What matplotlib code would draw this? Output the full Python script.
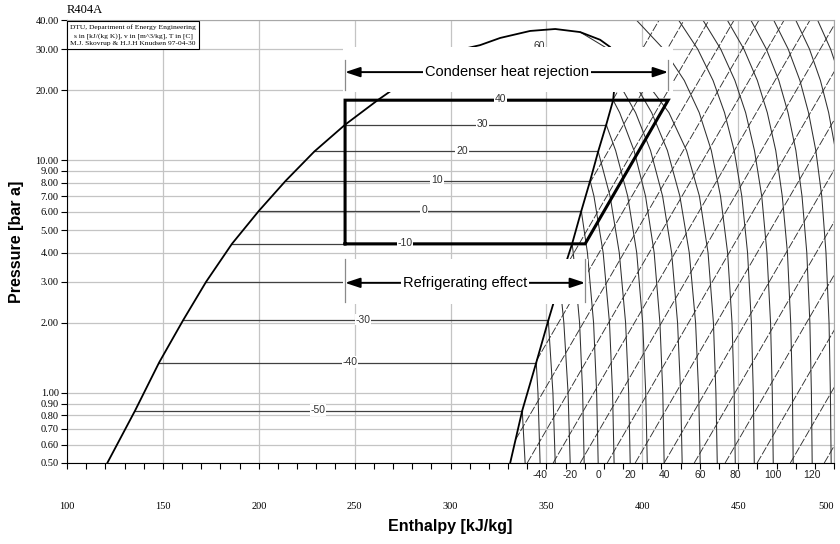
import matplotlib
matplotlib.use("Agg")
import matplotlib.pyplot as plt
from matplotlib.patches import Rectangle
from matplotlib.ticker import FixedLocator, MultipleLocator, NullLocator

SAT_T  = [-60, -50, -40, -30, -20, -10, 0, 10, 20, 30, 40, 50, 60]
SAT_P  = [0.50, 0.84, 1.35, 2.05, 3.00, 4.37, 6.05, 8.15, 10.9, 14.2, 18.1, 23.0, 28.8]
SAT_HL = [121.0, 135.5, 148.0, 160.5, 172.5, 186.0, 200.0, 214.0, 229.0, 245.0, 262.0, 280.0, 297.0]
SAT_HV = [331.1, 337.4, 344.7, 351.0, 357.0, 363.4, 368.2, 372.8, 377.0, 381.2, 384.8, 386.0, 384.5]

# top of the dome (near the critical point)
DOME_TOP_H = [315.4, 325.9, 341.5, 354.6, 367.6, 378.0, 383.3]
DOME_TOP_P = [31.2, 33.5, 35.9, 36.6, 35.5, 32.9, 30.6]

# labelled isotherms inside the dome and where their label sits
TP_T       = [-50, -40, -30, -20, -10, 0, 10, 20, 30, 40]
TP_LABEL_H = [230.9, 247.6, 254.4, 265.0, 276.3, 286.2, 293.0, 306.0, 316.5, 326.0]

# superheated isotherms: h at each pressure level (shorter rows stop at the dome)
P_LEVELS = [0.5, 1, 2, 4, 7, 11, 16, 22, 30, 40]
ISO_T = [-50, -40, -30, -20, -10, 0, 10, 20, 30, 40, 50, 60, 70,
         80, 90, 100, 110, 120, 130, 140, 150]
ISO_H = [
    [338.9],
    [346.7, 345.6],
    [354.6, 353.4],
    [362.4, 361.3, 359.1],
    [369.7, 368.9, 367.3, 364.0],
    [377.0, 376.2, 374.6, 371.4],
    [385.3, 384.5, 382.9, 379.6, 374.8],
    [393.7, 392.9, 391.3, 388.0, 383.2],
    [402.6, 401.8, 400.2, 397.1, 392.4, 386.1],
    [411.4, 410.7, 409.2, 406.2, 401.7, 395.7, 388.2],
    [420.8, 420.0, 418.4, 415.3, 410.6, 404.3, 396.5, 387.0],
    [430.2, 429.4, 427.8, 424.5, 419.6, 413.1, 404.9, 395.2],
    [439.1, 438.4, 437.1, 434.3, 429.8, 423.1, 413.9, 401.4, 382.3],
    [448.5, 447.9, 446.8, 444.5, 440.8, 436.0, 429.7, 421.9, 411.1, 396.9],
    [458.4, 457.9, 456.9, 454.9, 451.9, 447.9, 442.9, 436.9, 428.9, 418.9],
    [468.3, 467.8, 466.9, 465.0, 462.3, 458.5, 453.9, 448.3, 440.9, 431.6],
    [478.7, 478.3, 477.4, 475.7, 473.0, 469.6, 465.2, 460.0, 453.0, 444.3],
    [488.6, 488.2, 487.4, 485.8, 483.3, 480.1, 476.0, 471.2, 464.7, 456.6],
    [498.5, 498.1, 497.4, 495.8, 493.6, 490.5, 486.7, 482.2, 476.1, 468.5],
    [508.4, 508.0, 507.3, 505.9, 503.7, 500.8, 497.2, 492.9, 487.2, 480.0],
    [518.3, 518.0, 517.3, 515.9, 513.9, 511.2, 507.8, 503.7, 498.2, 491.4],
]
ISO_END_H = [337.4, 344.7, 351.0, 357.0, 363.4, 368.2, 372.8, 377.0, 381.2,
             384.8, 386.0, 384.5, 367.6] + [None] * 8
ISO_END_P = [0.84, 1.35, 2.05, 3.00, 4.37, 6.05, 8.15, 10.9, 14.2,
             18.1, 23.0, 28.8, 35.5] + [None] * 8
BOTTOM_LABEL_T = [-40, -20, 0, 20, 40, 60, 80, 100, 120]

# isentropes: lower end (vapour line or 0.5 bar) and h where they reach 40 bar
ISEN_START_H = [384.7, 372.3, 359.2, 344.9, 333.9, 340.0, 353.5, 367.6,
                381.7, 396.3, 411.4, 427.1, 443.2, 459.9, 477.2, 494.9]
ISEN_START_P = [18.2, 7.9, 3.38, 1.38, 0.63, 0.5, 0.5, 0.5,
                0.5, 0.5, 0.5, 0.5, 0.5, 0.5, 0.5, 0.5]
ISEN_END_H   = [408.8, 421.8, 434.8, 447.9, 460.9, 474.0, 487.5, 501.6,
                515.7, 530.3, 545.4, 561.1, 577.2, 593.9, 611.2, 628.9]

# refrigeration cycle
CYCLE_H = [245.0, 370.2, 413.5, 245.0, 245.0]
CYCLE_P = [4.37, 4.37, 18.1, 18.1, 4.37]

X_TICKS = [100, 150, 200, 250, 300, 350, 400, 450, 500]
Y_TICKS = [0.5, 0.6, 0.7, 0.8, 0.9, 1, 2, 3, 4, 5, 6, 7, 8, 9, 10, 20, 30, 40]

SERIF = "Liberation Serif"
SANS = "Liberation Sans"
GRID = "#c4c4c4"

fig = plt.figure(figsize=(8.4, 5.44), dpi=100)
ax = fig.add_axes([0.0798, 0.1489, 0.9131, 0.8143])
ax.set_yscale("log")
ax.set_xlim(100, 500)
ax.set_ylim(0.5, 40)

# axes, ticks and grid
ax.yaxis.set_major_locator(FixedLocator(Y_TICKS))
ax.yaxis.set_minor_locator(NullLocator())
ax.set_yticklabels([f"{v:.2f}" for v in Y_TICKS], family=SERIF, fontsize=7.5)
ax.xaxis.set_major_locator(FixedLocator(X_TICKS))
ax.xaxis.set_minor_locator(MultipleLocator(10))
xlabels = ax.set_xticklabels([str(v) for v in X_TICKS], family=SERIF, fontsize=7.5)
xlabels[-1].set_horizontalalignment("right")
ax.grid(True, which="major", color=GRID, lw=0.9)
ax.set_axisbelow(True)
ax.tick_params(axis="x", which="both", direction="out", length=4, width=0.8)
ax.tick_params(axis="x", which="major", pad=24)
ax.tick_params(axis="y", direction="out", length=4, width=0.8, pad=2)
for s in ("top", "right"):
    ax.spines[s].set_color("#a8a8a8")

h_lo, h_ev, h_hi = CYCLE_H[0], CYCLE_H[1], CYCLE_H[2]
p_ev, p_co = CYCLE_P[0], CYCLE_P[2]

# saturation dome
dome_h = SAT_HL + DOME_TOP_H + SAT_HV[::-1]
dome_p = SAT_P + DOME_TOP_P + SAT_P[::-1]
ax.plot(dome_h, dome_p, color="black", lw=1.3, zorder=3)

# isotherms inside the dome
for t, p, hl, hv in zip(SAT_T, SAT_P, SAT_HL, SAT_HV):
    if t not in TP_T:
        continue
    ax.plot([hl, hv], [p, p], color="#404040", lw=0.9, zorder=2)
for t, h_lab in zip(TP_T, TP_LABEL_H):
    p = SAT_P[SAT_T.index(t)]
    z = 5.5 if p in (p_ev, p_co) else 3.5   # labels on the cycle sit above it
    ax.annotate(str(t), xy=(h_lab, p), xytext=(0, -3), textcoords="offset points",
                ha="center", va="bottom", fontsize=7.5, family=SANS, color="#333333",
                bbox=dict(fc="white", ec="none", pad=0.6), zorder=z)

# superheated isotherms
for row, he, pe in zip(ISO_H, ISO_END_H, ISO_END_P):
    hs = list(row)
    ps = P_LEVELS[:len(row)]
    if he is not None:
        hs = hs + [he]
        ps = ps + [pe]
    ax.plot(hs, ps, color="#303030", lw=0.75, zorder=2)

# isentropes
for h0, p0, h1 in zip(ISEN_START_H, ISEN_START_P, ISEN_END_H):
    ax.plot([h0, h1], [p0, 40], color="#303030", lw=0.65,
            ls=(0, (9, 2)), zorder=2)

# temperature labels along the bottom
for t in BOTTOM_LABEL_T:
    h_b = ISO_H[ISO_T.index(t)][0]
    ax.text(h_b, -0.028, str(t), transform=ax.get_xaxis_transform(),
            ha="center", va="center", fontsize=7.5, family=SANS, color="#222222")

ax.text(DOME_TOP_H[2] + 5, 31.0, "60", ha="center", va="center",
        fontsize=7.5, family=SANS, color="#333333", zorder=3.5)

# white panels behind the two annotations
ax.add_patch(Rectangle((h_lo - 1, p_co * 1.08), h_hi - h_lo + 3.6, p_co * 0.62,
                       fc="white", ec="none", zorder=4))
ax.add_patch(Rectangle((h_lo - 1, p_ev * 0.55), h_ev - h_lo + 2.6, p_ev * 0.31,
                       fc="white", ec="none", zorder=4))

# cycle
ax.plot(CYCLE_H, CYCLE_P, color="black", lw=2.2, zorder=5, solid_joinstyle="miter")

# dimension arrows
for (ha_, hb_, pa, plo, phi, txt) in [
        (h_lo, h_hi, p_co * 1.32, p_co * 1.11, p_co * 1.49, "Condenser heat rejection"),
        (h_lo, h_ev, p_ev * 0.68, p_ev * 0.56, p_ev * 0.86, "Refrigerating effect")]:
    for hx in (ha_, hb_):
        ax.plot([hx, hx], [plo, phi], color="#8a8a8a", lw=0.9, zorder=5)
    ax.annotate("", xy=(hb_, pa), xytext=(ha_, pa),
                arrowprops=dict(arrowstyle="<|-|>,head_length=0.9,head_width=0.3",
                                color="black", lw=1.4, shrinkA=0, shrinkB=0),
                zorder=6)
    ax.text((ha_ + hb_) / 2, pa, txt, ha="center", va="center", fontsize=10.5,
            family=SANS, color="black", zorder=7,
            bbox=dict(fc="white", ec="none", pad=1.5))

# title and info box
ax.text(0.0, 1.008, "R404A", transform=ax.transAxes, ha="left", va="bottom",
        fontsize=9, family=SERIF)
ax.text(0.004, 0.99,
        "DTU, Department of Energy Engineering\n"
        "s in [kJ/(kg K)], v in [m^3/kg], T in [C]\n"
        "M.J. Skovrup & H.J.H Knudsen 97-04-30",
        transform=ax.transAxes, ha="left", va="top", fontsize=5.4, family=SERIF,
        multialignment="center", linespacing=1.6, zorder=8,
        bbox=dict(boxstyle="square,pad=0.4", fc="white", ec="black", lw=0.8))

ax.set_xlabel("Enthalpy [kJ/kg]", family=SANS, fontweight="bold", fontsize=11.5,
              labelpad=6)
ax.set_ylabel("Pressure [bar a]", family=SANS, fontweight="bold", fontsize=11.5,
              labelpad=8)

fig.savefig("out.png", dpi=100)
